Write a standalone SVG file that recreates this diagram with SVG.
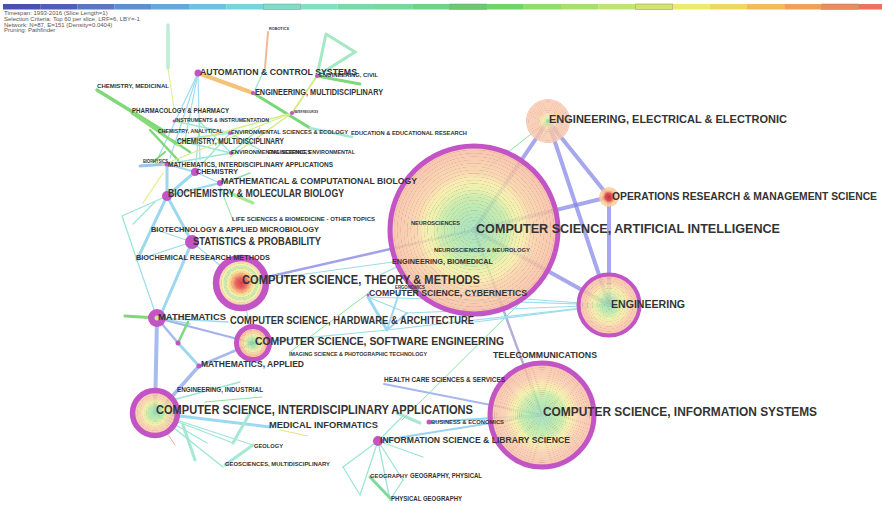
<svg xmlns="http://www.w3.org/2000/svg" width="882" height="505" viewBox="0 0 882 505">
<style>
  .hdr{font-family:"Liberation Sans",Arial,sans-serif;font-size:6px;fill:#555}
  .lbl{font-family:"Liberation Sans",Arial,sans-serif;font-weight:bold;fill:#333}
  .edges line,.edges polyline{stroke-linecap:round;fill:none}
  .eb{stroke:#8585e6;stroke-opacity:.72;stroke-width:4}
  .eb2{stroke:#8a8ae8;stroke-opacity:.8;stroke-width:2.5}
  .ebl{stroke:#9cb4ec;stroke-opacity:.9;stroke-width:4}
  .ec{stroke:#9cd8ee;stroke-width:3}
  .ec2{stroke:#9cd8ee;stroke-width:2}
  .ec1{stroke:#9cdcec;stroke-width:1.2}
  .et{stroke:#9ce6d2;stroke-width:1.3}
  .et3{stroke:#a6e8d4;stroke-width:3}
  .eg{stroke:#80d87a;stroke-width:3}
  .eg1{stroke:#8ee0a4;stroke-width:1}
  .ey{stroke:#d4ec88;stroke-width:1.5}
  .eo{stroke:#f5c27a;stroke-width:4}
  .ring{fill:none;stroke:#c254c6}
  .dot{fill:#c254c6}
  .body{fill-opacity:.84}
</style>
<defs>
  <!-- year rings: repeating faint bands on top of the base fill -->
  <radialGradient id="ringsL" spreadMethod="repeat" cx=".5" cy=".5" r=".02">
    <stop offset="0" stop-color="#fff" stop-opacity="0"/>
    <stop offset=".6" stop-color="#fff" stop-opacity="0"/>
    <stop offset=".85" stop-color="#b06040" stop-opacity=".26"/>
    <stop offset="1" stop-color="#fff" stop-opacity="0"/>
  </radialGradient>
  <radialGradient id="ringsM" spreadMethod="repeat" cx=".5" cy=".5" r=".04">
    <stop offset="0" stop-color="#fff" stop-opacity="0"/>
    <stop offset=".6" stop-color="#fff" stop-opacity="0"/>
    <stop offset=".85" stop-color="#b06040" stop-opacity=".24"/>
    <stop offset="1" stop-color="#fff" stop-opacity="0"/>
  </radialGradient>
  <radialGradient id="ringsS" spreadMethod="repeat" cx=".5" cy=".5" r=".05">
    <stop offset="0" stop-color="#fff" stop-opacity="0"/>
    <stop offset=".6" stop-color="#fff" stop-opacity="0"/>
    <stop offset=".85" stop-color="#b06040" stop-opacity=".2"/>
    <stop offset="1" stop-color="#fff" stop-opacity="0"/>
  </radialGradient>
  <radialGradient id="gAI">
    <stop offset="0" stop-color="#98dcb8"/>
    <stop offset=".2" stop-color="#a6e4aa"/>
    <stop offset=".4" stop-color="#c2eaa0"/>
    <stop offset=".5" stop-color="#eaf0a0"/>
    <stop offset=".6" stop-color="#f6eaa4"/>
    <stop offset=".68" stop-color="#f8d2a4"/>
    <stop offset="1" stop-color="#f6b8a2"/>
  </radialGradient>
  <radialGradient id="gIS">
    <stop offset="0" stop-color="#98dcc0"/>
    <stop offset=".2" stop-color="#a4e4a8"/>
    <stop offset=".42" stop-color="#c4eca0"/>
    <stop offset=".52" stop-color="#f0f0a0"/>
    <stop offset=".62" stop-color="#f8e0a4"/>
    <stop offset=".72" stop-color="#f8ccaa"/>
    <stop offset="1" stop-color="#f6baa4"/>
  </radialGradient>
  <radialGradient id="gENG">
    <stop offset="0" stop-color="#8edcb0"/>
    <stop offset=".25" stop-color="#b0e8a4"/>
    <stop offset=".45" stop-color="#e8f0a0"/>
    <stop offset=".6" stop-color="#f6e4a0"/>
    <stop offset=".75" stop-color="#f8c8a4"/>
    <stop offset="1" stop-color="#f6b8a2"/>
  </radialGradient>
  <radialGradient id="gCSIA">
    <stop offset="0" stop-color="#8edcb0"/>
    <stop offset=".3" stop-color="#b4e8a0"/>
    <stop offset=".5" stop-color="#f0f09c"/>
    <stop offset=".65" stop-color="#f8d0a4"/>
    <stop offset="1" stop-color="#f6bca6"/>
  </radialGradient>
  <radialGradient id="gSE">
    <stop offset="0" stop-color="#6ed49c"/>
    <stop offset=".3" stop-color="#b4e8a0"/>
    <stop offset=".5" stop-color="#f0ec98"/>
    <stop offset=".75" stop-color="#f8b890"/>
    <stop offset="1" stop-color="#f4b4a4"/>
  </radialGradient>
  <radialGradient id="gEE">
    <stop offset="0" stop-color="#8edca8"/>
    <stop offset=".12" stop-color="#d8f0a0"/>
    <stop offset=".28" stop-color="#f8e0a8"/>
    <stop offset=".45" stop-color="#f7c8a8"/>
    <stop offset="1" stop-color="#f8c8b0"/>
  </radialGradient>
  <radialGradient id="gOR">
    <stop offset="0" stop-color="#d82020"/>
    <stop offset=".38" stop-color="#e43a34"/>
    <stop offset=".55" stop-color="#f0a070"/>
    <stop offset=".75" stop-color="#f8d090"/>
    <stop offset="1" stop-color="#f7c4a4"/>
  </radialGradient>
  <radialGradient id="gTM">
    <stop offset="0" stop-color="#dc2424"/>
    <stop offset=".2" stop-color="#e84040"/>
    <stop offset=".32" stop-color="#f29060"/>
    <stop offset=".44" stop-color="#f8d078"/>
    <stop offset=".54" stop-color="#f2ee98"/>
    <stop offset=".64" stop-color="#b4e6a6"/>
    <stop offset=".74" stop-color="#f2f09e"/>
    <stop offset=".86" stop-color="#f8c6a8"/>
    <stop offset="1" stop-color="#f4b0b0"/>
  </radialGradient>
</defs>

<rect width="882" height="505" fill="#fff"/>

<!-- timeline legend, one cell per year 1993-2016 -->
<g id="timeline">
  <rect x="3" y="4" width="37.2" height="5.5" fill="#4a50b0"/>
  <rect x="40.2" y="4" width="37.2" height="5.5" fill="#5060b8"/>
  <rect x="77.4" y="4" width="37.2" height="5.5" fill="#5878c0"/>
  <rect x="114.6" y="4" width="37.2" height="5.5" fill="#6090cc"/>
  <rect x="151.8" y="4" width="37.2" height="5.5" fill="#68a8d8"/>
  <rect x="189" y="4" width="37.2" height="5.5" fill="#70c0e0"/>
  <rect x="226.2" y="4" width="37.2" height="5.5" fill="#78d4dc"/>
  <rect x="263.4" y="4" width="37.2" height="5.5" fill="#80dcc8"/>
  <rect x="300.6" y="4" width="37.2" height="5.5" fill="#82e0c0"/>
  <rect x="337.8" y="4" width="37.2" height="5.5" fill="#7ad8aa"/>
  <rect x="375" y="4" width="37.2" height="5.5" fill="#76d89a"/>
  <rect x="412.2" y="4" width="37.2" height="5.5" fill="#6ed484"/>
  <rect x="449.4" y="4" width="37.2" height="5.5" fill="#68cc6c"/>
  <rect x="486.6" y="4" width="37.2" height="5.5" fill="#72d468"/>
  <rect x="523.8" y="4" width="37.2" height="5.5" fill="#90dc6c"/>
  <rect x="561" y="4" width="37.2" height="5.5" fill="#a8e070"/>
  <rect x="598.2" y="4" width="37.2" height="5.5" fill="#c0e474"/>
  <rect x="635.4" y="4" width="37.2" height="5.5" fill="#d4e470"/>
  <rect x="672.6" y="4" width="37.2" height="5.5" fill="#ecec68"/>
  <rect x="709.8" y="4" width="37.2" height="5.5" fill="#f0d860"/>
  <rect x="747" y="4" width="37.2" height="5.5" fill="#f0bc5c"/>
  <rect x="784.2" y="4" width="37.2" height="5.5" fill="#f0a058"/>
  <rect x="821.4" y="4" width="37.2" height="5.5" fill="#ec8c58"/>
  <rect x="858.6" y="4" width="23.4" height="5.5" fill="#f07060"/>
  <g fill="none" stroke="#888" stroke-opacity=".6" stroke-width=".8">
    <rect x="263.4" y="4" width="37.2" height="5.5"/>
    <rect x="449.4" y="4" width="37.2" height="5.5"/>
    <rect x="635.4" y="4" width="37.2" height="5.5"/>
    <rect x="821.4" y="4" width="37.2" height="5.5"/>
  </g>
</g>

<g id="info">
  <text class="hdr" x="4" y="15">Timespan: 1993-2016 (Slice Length=1)</text>
  <text class="hdr" x="4" y="21">Selection Criteria: Top 60 per slice, LRF=6, LBY=-1</text>
  <text class="hdr" x="4" y="26.5">Network: N=87, E=151 (Density=0.0404)</text>
  <text class="hdr" x="4" y="32">Pruning: Pathfinder</text>
</g>

<g id="connectors" class="edges">
  <!-- strong links of the engineering / AI core -->
  <line class="eb" x1="474" y1="230" x2="548" y2="121"/>
  <line class="eb" x1="474" y1="230" x2="609" y2="197"/>
  <line class="eb" x1="474" y1="230" x2="609" y2="305"/>
  <line class="eb" x1="548" y1="121" x2="609" y2="197"/>
  <line class="eb" x1="548" y1="121" x2="609" y2="305"/>
  <line class="eb" x1="609" y1="197" x2="609" y2="305"/>
  <line class="eb2" x1="474" y1="230" x2="241" y2="283"/>
  <line class="eb2" x1="474" y1="230" x2="542" y2="415" style="stroke:#9c9cd0"/>
  <line class="eb2" x1="384" y1="384" x2="542" y2="415" style="stroke:#90a4ec;stroke-width:2"/>
  <!-- mathematics cluster -->
  <line class="ebl" x1="157" y1="318" x2="155" y2="413"/>
  <line class="ebl" x1="199" y1="366" x2="160" y2="410" style="stroke-width:3.5"/>
  <line class="ebl" x1="157" y1="318" x2="178" y2="343" style="stroke-width:2.5"/>
  <line class="ebl" x1="157" y1="318" x2="253" y2="343" style="stroke-width:2;stroke:#9aa6ec"/>
  <line class="ebl" x1="199" y1="366" x2="253" y2="343" style="stroke-width:2.5"/>
  <line class="ec" x1="178" y1="343" x2="199" y2="366"/>
  <line class="ec1" x1="157" y1="318" x2="228" y2="322" style="stroke-width:1.6"/>
  <line class="ec1" x1="160" y1="318" x2="190" y2="324" style="stroke-width:1.6"/>
  <polyline class="eg" points="125,316 157,318"/>
  <line class="eg" x1="178" y1="343" x2="188" y2="322" style="stroke-width:2.5"/>
  <!-- CS interdisciplinary fan -->
  <line class="ec" x1="155" y1="413" x2="270" y2="427"/>
  <line class="et3" x1="183" y1="425" x2="195" y2="460"/>
  <line class="et" x1="155" y1="413" x2="207" y2="443"/>
  <line class="et" x1="155" y1="413" x2="223" y2="467"/>
  <line class="et" x1="155" y1="413" x2="253" y2="445"/>
  <line class="et" x1="155" y1="413" x2="233" y2="443"/>
  <line class="et" x1="165" y1="402" x2="240" y2="382"/>
  <line class="et3" x1="225" y1="465" x2="253" y2="445"/>
  <line class="et3" x1="233" y1="443" x2="250" y2="413"/>
  <line x1="167" y1="433" x2="175" y2="445" style="stroke:#f4b090;stroke-width:1"/>
  <line x1="280" y1="430" x2="308" y2="436" style="stroke:#f0e080;stroke-width:1"/>
  <line class="eg1" x1="205" y1="402" x2="262" y2="397"/>
  <!-- information systems side -->
  <line class="ec2" x1="542" y1="415" x2="429" y2="422" style="stroke:#90d4f0"/>
  <line class="ec2" x1="542" y1="415" x2="378" y2="441" style="stroke:#98d4f0"/>
  <line class="et" x1="378" y1="441" x2="343" y2="467"/>
  <line class="et" x1="378" y1="441" x2="360" y2="495"/>
  <line class="et" x1="378" y1="441" x2="390" y2="500"/>
  <line class="et" x1="378" y1="441" x2="403" y2="480"/>
  <line class="et" x1="378" y1="441" x2="423" y2="457"/>
  <line class="et" x1="343" y1="467" x2="360" y2="495"/>
  <line class="et" x1="378" y1="441" x2="402" y2="417"/>
  <line class="et" x1="403" y1="480" x2="390" y2="500"/>
  <line class="et3" x1="370" y1="477" x2="390" y2="498" style="stroke:#80d8a0"/>
  <line class="et3" x1="397" y1="413" x2="420" y2="423"/>
  <line class="eg1" x1="525" y1="298" x2="402" y2="420"/>
  <!-- theory, cybernetics, hardware -->
  <line class="ec1" x1="241" y1="283" x2="253" y2="343"/>
  <line class="ec1" x1="262" y1="280" x2="393" y2="262"/>
  <line class="ec1" x1="241" y1="283" x2="192" y2="242"/>
  <line class="ec1" x1="253" y1="343" x2="387" y2="330"/>
  <line class="ec" x1="368" y1="297" x2="387" y2="330"/>
  <line class="ec2" x1="387" y1="330" x2="407" y2="313"/>
  <line class="ec2" x1="387" y1="330" x2="400" y2="290"/>
  <line class="ec1" x1="368" y1="297" x2="407" y2="313"/>
  <line class="ec1" x1="368" y1="297" x2="609" y2="305"/>
  <line class="ec1" x1="387" y1="330" x2="609" y2="305"/>
  <line class="ec1" x1="407" y1="313" x2="609" y2="305"/>
  <line class="ec1" x1="475" y1="322" x2="609" y2="305"/>
  <line class="ec1" x1="400" y1="290" x2="609" y2="305"/>
  <line class="ec1" x1="474" y1="230" x2="380" y2="275"/>
  <line class="eg1" x1="405" y1="232" x2="548" y2="121"/>
  <line class="eg1" x1="290" y1="352" x2="370" y2="292"/>
  <!-- life sciences and chemistry cluster -->
  <line class="ec" x1="167" y1="196" x2="195" y2="172"/>
  <line class="ec" x1="167" y1="196" x2="167" y2="164"/>
  <line class="ec" x1="167" y1="196" x2="192" y2="242"/>
  <line class="ec" x1="167" y1="196" x2="137" y2="260"/>
  <line class="ec" x1="192" y1="242" x2="162" y2="312"/>
  <line class="ec" x1="167" y1="164" x2="140" y2="166" style="stroke:#9cc4ec"/>
  <line class="ec2" x1="195" y1="172" x2="167" y2="164"/>
  <line class="ec2" x1="220" y1="183" x2="167" y2="196"/>
  <line class="ec1" x1="220" y1="183" x2="195" y2="172"/>
  <line class="ec1" x1="192" y1="242" x2="137" y2="260"/>
  <line class="ec1" x1="137" y1="260" x2="157" y2="318"/>
  <line class="ec1" x1="192" y1="242" x2="151" y2="228"/>
  <polyline class="et" points="167,196 122,216 137,260"/>
  <line class="et" x1="155" y1="202" x2="133" y2="224"/>
  <line class="ec1" x1="198" y1="73" x2="157" y2="160"/>
  <line class="ec1" x1="198" y1="73" x2="170" y2="158"/>
  <line class="ec1" x1="198" y1="73" x2="185" y2="140"/>
  <line class="ec1" x1="198" y1="73" x2="200" y2="160"/>
  <line class="et" x1="177" y1="140" x2="230" y2="133"/>
  <line class="et" x1="177" y1="140" x2="231" y2="153"/>
  <line class="et" x1="200" y1="122" x2="231" y2="153"/>
  <line class="et" x1="230" y1="133" x2="195" y2="172"/>
  <line class="et" x1="231" y1="153" x2="167" y2="164"/>
  <line class="et" x1="260" y1="128" x2="231" y2="153"/>
  <line class="et" x1="230" y1="133" x2="260" y2="150"/>
  <line class="et" x1="174" y1="121" x2="230" y2="133"/>
  <line class="et" x1="200" y1="122" x2="195" y2="172"/>
  <line class="eg" x1="97" y1="90" x2="165" y2="132" style="stroke-width:3.5"/>
  <line class="eg" x1="132" y1="113" x2="178" y2="145" style="stroke:#88dc78"/>
  <line class="eg" x1="150" y1="130" x2="178" y2="160" style="stroke-width:2.5"/>
  <line class="eg" x1="172" y1="140" x2="190" y2="152" style="stroke-width:2.5"/>
  <line class="eg" x1="165" y1="152" x2="153" y2="162" style="stroke-width:2"/>
  <line class="eg" x1="230" y1="193" x2="253" y2="203" style="stroke:#a8e890"/>
  <line class="eg1" x1="220" y1="187" x2="233" y2="220"/>
  <line class="eg1" x1="227" y1="182" x2="250" y2="173" style="stroke-width:1.5"/>
  <line x1="163" y1="173" x2="143" y2="203" style="stroke:#e4ea80;stroke-width:1.2"/>
  <!-- automation / engineering corner -->
  <line x1="168" y1="25" x2="168" y2="68" style="stroke:#bcecd8;stroke-width:3.5"/>
  <line x1="168" y1="68" x2="174" y2="108" style="stroke:#e0ec90;stroke-width:1"/>
  <line class="eo" x1="198" y1="73" x2="253" y2="93"/>
  <line x1="268" y1="32" x2="265" y2="68" style="stroke:#f5b890;stroke-width:2"/>
  <line class="et" x1="265" y1="68" x2="255" y2="90"/>
  <line class="eg" x1="253" y1="93" x2="310" y2="128" style="stroke:#78d878"/>
  <line class="et3" x1="310" y1="128" x2="352" y2="137" style="stroke-width:2.5"/>
  <polyline class="et3" points="326,34 355,52 317,76 326,34" style="stroke:#a4e8c4"/>
  <line class="eg" x1="317" y1="76" x2="360" y2="84"/>
  <line class="ey" x1="317" y1="76" x2="292" y2="113" style="stroke-width:2"/>
  <line class="ey" x1="292" y1="113" x2="177" y2="145"/>
  <line class="ey" x1="292" y1="113" x2="230" y2="157"/>
  <line class="ey" x1="292" y1="113" x2="162" y2="165" style="stroke-width:1.2"/>
</g>

<!-- large nodes -->
<g id="n-ai">
  <circle class="body" cx="474" cy="230" r="84" fill="url(#gAI)"/>
  <circle cx="474" cy="230" r="84" fill="url(#ringsL)"/>
  <circle class="ring" cx="474" cy="230" r="84" stroke-width="5"/>
  <text class="lbl" x="476" y="233" font-size="13.5" textLength="304" lengthAdjust="spacingAndGlyphs">COMPUTER SCIENCE, ARTIFICIAL INTELLIGENCE</text>
</g>
<g id="n-is">
  <circle class="body" cx="542" cy="415" r="52" fill="url(#gIS)"/>
  <circle cx="542" cy="415" r="52" fill="url(#ringsL)"/>
  <circle class="ring" cx="542" cy="415" r="52" stroke-width="5"/>
  <text class="lbl" x="543" y="416" font-size="12.5" textLength="274" lengthAdjust="spacingAndGlyphs">COMPUTER SCIENCE, INFORMATION SYSTEMS</text>
</g>
<g id="n-eng">
  <circle class="body" cx="609" cy="305" r="30.5" fill="url(#gENG)"/>
  <circle cx="609" cy="305" r="30.5" fill="url(#ringsM)"/>
  <circle class="ring" cx="609" cy="305" r="30.5" stroke-width="4"/>
  <text class="lbl" x="611" y="308" font-size="11.5" textLength="74" lengthAdjust="spacingAndGlyphs">ENGINEERING</text>
</g>
<g id="n-ee">
  <circle class="body" cx="548" cy="121" r="22" fill="url(#gEE)"/>
  <circle cx="548" cy="121" r="22" fill="url(#ringsS)"/>
  <text class="lbl" x="549" y="123" font-size="11" textLength="238" lengthAdjust="spacingAndGlyphs">ENGINEERING, ELECTRICAL &amp; ELECTRONIC</text>
</g>
<g id="n-or">
  <circle class="body" cx="609" cy="197" r="10" fill="url(#gOR)"/>
  <text class="lbl" x="612" y="200" font-size="11" textLength="265" lengthAdjust="spacingAndGlyphs">OPERATIONS RESEARCH &amp; MANAGEMENT SCIENCE</text>
</g>
<g id="n-csia">
  <circle class="body" cx="155" cy="413" r="22.5" fill="url(#gCSIA)"/>
  <circle cx="155" cy="413" r="22.5" fill="url(#ringsS)"/>
  <circle class="ring" cx="155" cy="413" r="22.5" stroke-width="5.5"/>
  <text class="lbl" x="156" y="414" font-size="12" textLength="317" lengthAdjust="spacingAndGlyphs">COMPUTER SCIENCE, INTERDISCIPLINARY APPLICATIONS</text>
</g>
<g id="n-tm">
  <circle class="body" cx="241" cy="283" r="25" fill="url(#gTM)"/>
  <circle cx="241" cy="283" r="25" fill="url(#ringsS)"/>
  <circle class="ring" cx="241" cy="283" r="25" stroke-width="6.5"/>
  <text class="lbl" x="242" y="284" font-size="12" textLength="238" lengthAdjust="spacingAndGlyphs">COMPUTER SCIENCE, THEORY &amp; METHODS</text>
</g>
<g id="n-se">
  <circle class="body" cx="253" cy="343" r="16.5" fill="url(#gSE)"/>
  <circle cx="253" cy="343" r="16.5" fill="url(#ringsS)"/>
  <circle class="ring" cx="253" cy="343" r="16.5" stroke-width="5"/>
  <text class="lbl" x="255" y="345" font-size="11.5" textLength="249" lengthAdjust="spacingAndGlyphs">COMPUTER SCIENCE, SOFTWARE ENGINEERING</text>
</g>

<!-- smaller nodes -->
<g id="n-math">
  <circle class="dot" cx="157" cy="318" r="9"/>
  <circle cx="157" cy="318" r="2.5" fill="#c8e890"/>
  <text class="lbl" x="158" y="320" font-size="9.5" textLength="68" lengthAdjust="spacingAndGlyphs">MATHEMATICS</text>
</g>
<g id="n-stat">
  <circle class="dot" cx="192" cy="242" r="7"/>
  <text class="lbl" x="193" y="245" font-size="10.5" textLength="128" lengthAdjust="spacingAndGlyphs">STATISTICS &amp; PROBABILITY</text>
</g>
<g id="n-biochem">
  <circle class="dot" cx="167" cy="196" r="5"/>
  <text class="lbl" x="168" y="197" font-size="10.5" textLength="176" lengthAdjust="spacingAndGlyphs">BIOCHEMISTRY &amp; MOLECULAR BIOLOGY</text>
</g>
<g id="n-chem">
  <circle class="dot" cx="195" cy="172" r="4"/>
  <text class="lbl" x="196" y="174" font-size="7.5" textLength="42" lengthAdjust="spacingAndGlyphs">CHEMISTRY</text>
</g>
<g id="n-mcb">
  <circle class="dot" cx="220" cy="183" r="3"/>
  <text class="lbl" x="221" y="184" font-size="9.5" textLength="196" lengthAdjust="spacingAndGlyphs">MATHEMATICAL &amp; COMPUTATIONAL BIOLOGY</text>
</g>
<g id="n-mia">
  <circle class="dot" cx="167" cy="164" r="2.5"/>
  <text class="lbl" x="168" y="167" font-size="7.5" textLength="165" lengthAdjust="spacingAndGlyphs">MATHEMATICS, INTERDISCIPLINARY APPLICATIONS</text>
</g>
<g id="n-biophys">
  <text class="lbl" x="143" y="163" font-size="4.5" textLength="25" lengthAdjust="spacingAndGlyphs">BIOPHYSICS</text>
</g>
<g id="n-envsci">
  <circle class="dot" cx="231" cy="153" r="2"/>
  <text class="lbl" x="231" y="154" font-size="5.5" textLength="80" lengthAdjust="spacingAndGlyphs">ENVIRONMENTAL SCIENCES</text>
</g>
<g id="n-engenv">
  <text class="lbl" x="268" y="154" font-size="5.5" textLength="87" lengthAdjust="spacingAndGlyphs">ENGINEERING, ENVIRONMENTAL</text>
</g>
<g id="n-chemmulti">
  <text class="lbl" x="177" y="144" font-size="8.5" textLength="107" lengthAdjust="spacingAndGlyphs">CHEMISTRY, MULTIDISCIPLINARY</text>
</g>
<g id="n-chemanal">
  <text class="lbl" x="158" y="133" font-size="5.5" textLength="65" lengthAdjust="spacingAndGlyphs">CHEMISTRY, ANALYTICAL</text>
</g>
<g id="n-enveco">
  <circle class="dot" cx="230" cy="133" r="2"/>
  <text class="lbl" x="231" y="134" font-size="6" textLength="117" lengthAdjust="spacingAndGlyphs">ENVIRONMENTAL SCIENCES &amp; ECOLOGY</text>
</g>
<g id="n-edu">
  <text class="lbl" x="351" y="135" font-size="6" textLength="116" lengthAdjust="spacingAndGlyphs">EDUCATION &amp; EDUCATIONAL RESEARCH</text>
</g>
<g id="n-instr">
  <circle class="dot" cx="174" cy="121" r="1.5"/>
  <text class="lbl" x="175" y="122" font-size="5.5" textLength="94" lengthAdjust="spacingAndGlyphs">INSTRUMENTS &amp; INSTRUMENTATION</text>
</g>
<g id="n-pharm">
  <text class="lbl" x="132" y="113" font-size="6.5" textLength="97" lengthAdjust="spacingAndGlyphs">PHARMACOLOGY &amp; PHARMACY</text>
</g>
<g id="n-chemmed">
  <text class="lbl" x="97" y="88" font-size="6" textLength="72" lengthAdjust="spacingAndGlyphs">CHEMISTRY, MEDICINAL</text>
</g>
<g id="n-auto">
  <circle class="dot" cx="198" cy="73" r="3.5"/>
  <text class="lbl" x="200" y="75" font-size="9.5" textLength="157" lengthAdjust="spacingAndGlyphs">AUTOMATION &amp; CONTROL SYSTEMS</text>
</g>
<g id="n-civil">
  <circle class="dot" cx="317" cy="76" r="2"/>
  <text class="lbl" x="319" y="77" font-size="5" textLength="59" lengthAdjust="spacingAndGlyphs">ENGINEERING, CIVIL</text>
</g>
<g id="n-emulti">
  <circle class="dot" cx="253" cy="93" r="2"/>
  <text class="lbl" x="255" y="95" font-size="8.5" textLength="128" lengthAdjust="spacingAndGlyphs">ENGINEERING, MULTIDISCIPLINARY</text>
</g>
<g id="n-robotics">
  <text class="lbl" x="269" y="30" font-size="3.5" textLength="20" lengthAdjust="spacingAndGlyphs">ROBOTICS</text>
</g>
<g id="n-water">
  <circle class="dot" cx="292" cy="113" r="2"/>
  <text class="lbl" x="294" y="113" font-size="3" textLength="24" lengthAdjust="spacingAndGlyphs">WATER RESOURCES</text>
</g>
<g id="n-life">
  <text class="lbl" x="232" y="221" font-size="6" textLength="143" lengthAdjust="spacingAndGlyphs">LIFE SCIENCES &amp; BIOMEDICINE - OTHER TOPICS</text>
</g>
<g id="n-biotech">
  <text class="lbl" x="151" y="232" font-size="7.5" textLength="168" lengthAdjust="spacingAndGlyphs">BIOTECHNOLOGY &amp; APPLIED MICROBIOLOGY</text>
</g>
<g id="n-brm">
  <text class="lbl" x="136" y="260" font-size="7.5" textLength="134" lengthAdjust="spacingAndGlyphs">BIOCHEMICAL RESEARCH METHODS</text>
</g>
<g id="n-neuro">
  <text class="lbl" x="411" y="225" font-size="5.5" textLength="49" lengthAdjust="spacingAndGlyphs">NEUROSCIENCES</text>
</g>
<g id="n-neuroneuro">
  <text class="lbl" x="434" y="252" font-size="6" textLength="96" lengthAdjust="spacingAndGlyphs">NEUROSCIENCES &amp; NEUROLOGY</text>
</g>
<g id="n-biomed">
  <text class="lbl" x="392" y="264" font-size="7.5" textLength="101" lengthAdjust="spacingAndGlyphs">ENGINEERING, BIOMEDICAL</text>
</g>
<g id="n-ergo">
  <text class="lbl" x="395" y="289" font-size="4.5" textLength="30" lengthAdjust="spacingAndGlyphs">ERGONOMICS</text>
</g>
<g id="n-cyb">
  <circle class="dot" cx="368" cy="295" r="1.5"/>
  <text class="lbl" x="369" y="296" font-size="9.5" textLength="158" lengthAdjust="spacingAndGlyphs">COMPUTER SCIENCE, CYBERNETICS</text>
</g>
<g id="n-hw">
  <text class="lbl" x="230" y="324" font-size="10" textLength="244" lengthAdjust="spacingAndGlyphs">COMPUTER SCIENCE, HARDWARE &amp; ARCHITECTURE</text>
</g>
<g id="n-mx">
  <circle class="dot" cx="178" cy="343" r="2.5"/>
</g>
<g id="n-mapp">
  <circle class="dot" cx="199" cy="366" r="2.5"/>
  <text class="lbl" x="201" y="367" font-size="9.5" textLength="103" lengthAdjust="spacingAndGlyphs">MATHEMATICS, APPLIED</text>
</g>
<g id="n-imaging">
  <text class="lbl" x="289" y="356" font-size="5.5" textLength="138" lengthAdjust="spacingAndGlyphs">IMAGING SCIENCE &amp; PHOTOGRAPHIC TECHNOLOGY</text>
</g>
<g id="n-tel">
  <text class="lbl" x="493" y="358" font-size="9" textLength="104" lengthAdjust="spacingAndGlyphs">TELECOMMUNICATIONS</text>
</g>
<g id="n-health">
  <text class="lbl" x="384" y="382" font-size="7" textLength="121" lengthAdjust="spacingAndGlyphs">HEALTH CARE SCIENCES &amp; SERVICES</text>
</g>
<g id="n-business">
  <circle class="dot" cx="429" cy="422" r="2.5"/>
  <text class="lbl" x="431" y="424" font-size="6" textLength="73" lengthAdjust="spacingAndGlyphs">BUSINESS &amp; ECONOMICS</text>
</g>
<g id="n-isls">
  <circle class="dot" cx="378" cy="441" r="5"/>
  <text class="lbl" x="380" y="443" font-size="9.5" textLength="190" lengthAdjust="spacingAndGlyphs">INFORMATION SCIENCE &amp; LIBRARY SCIENCE</text>
</g>
<g id="n-geo">
  <text class="lbl" x="370" y="478" font-size="6" textLength="38" lengthAdjust="spacingAndGlyphs">GEOGRAPHY</text>
</g>
<g id="n-geophys">
  <text class="lbl" x="410" y="478" font-size="6.5" textLength="72" lengthAdjust="spacingAndGlyphs">GEOGRAPHY, PHYSICAL</text>
</g>
<g id="n-physgeo">
  <text class="lbl" x="391" y="501" font-size="6.5" textLength="71" lengthAdjust="spacingAndGlyphs">PHYSICAL GEOGRAPHY</text>
</g>
<g id="n-geology">
  <text class="lbl" x="254" y="448" font-size="5.5" textLength="29" lengthAdjust="spacingAndGlyphs">GEOLOGY</text>
</g>
<g id="n-geosci">
  <text class="lbl" x="225" y="466" font-size="5.5" textLength="105" lengthAdjust="spacingAndGlyphs">GEOSCIENCES, MULTIDISCIPLINARY</text>
</g>
<g id="n-medinf">
  <text class="lbl" x="269" y="428" font-size="9.5" textLength="109" lengthAdjust="spacingAndGlyphs">MEDICAL INFORMATICS</text>
</g>
<g id="n-engind">
  <text class="lbl" x="177" y="392" font-size="6.5" textLength="86" lengthAdjust="spacingAndGlyphs">ENGINEERING, INDUSTRIAL</text>
</g>
</svg>
